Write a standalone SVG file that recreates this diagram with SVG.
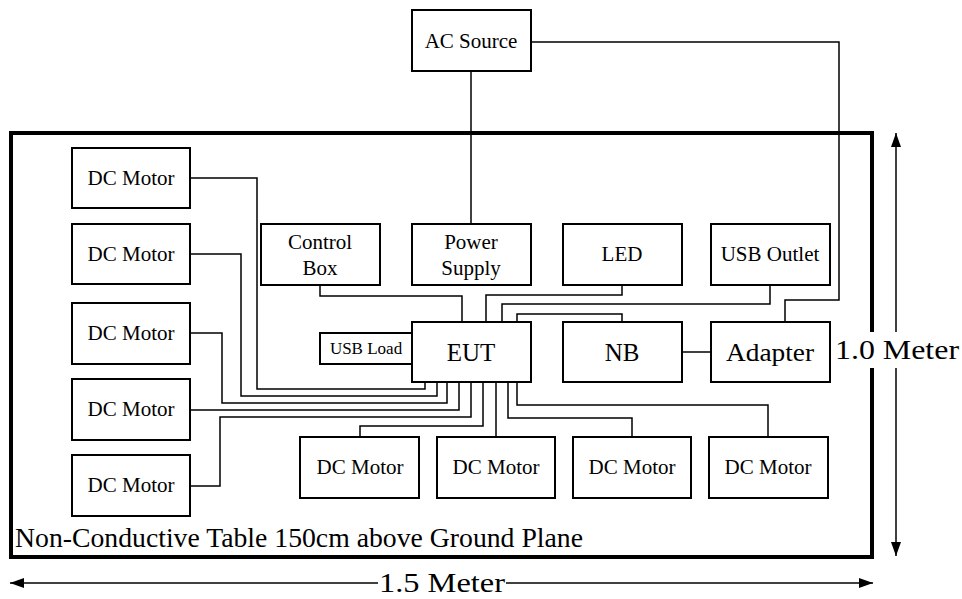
<svg xmlns="http://www.w3.org/2000/svg" width="962" height="599" viewBox="0 0 962 599">
<style>
.box{fill:#fff;stroke:#000;stroke-width:2}
.w{fill:none;stroke:#000;stroke-width:1.5}
.t{font-family:"Liberation Serif","Times New Roman",serif;fill:#000;text-anchor:middle}
.s{font-size:21px}
.m{font-size:25px}
.big{font-size:27px}
</style>
<defs>
<marker id="ah" viewBox="0 0 14 10" refX="14" refY="5" markerWidth="14" markerHeight="10" markerUnits="userSpaceOnUse" orient="auto-start-reverse">
<path d="M0,0 L14,5 L0,10 Z" fill="#000"/>
</marker>
</defs>
<rect width="962" height="599" fill="#fff"/>
<g id="table">
<rect x="11" y="133" width="861" height="424" fill="none" stroke="#000" stroke-width="4"/>
<text x="15" y="547" font-family="Liberation Serif, Times New Roman, serif" font-size="27" textLength="568" lengthAdjust="spacingAndGlyphs">Non-Conductive Table 150cm above Ground Plane</text>
</g>
<g id="connectors">
<path class="w" d="M471,72 V223"/>
<path class="w" d="M531,42 H839 V300 H785 V322"/>
<path class="w" d="M320,285 V296 H462 V322"/>
<path class="w" d="M622,285 V295 H486 V322"/>
<path class="w" d="M770,285 V304 H502 V322"/>
<path class="w" d="M622,322 V314 H517 V322"/>
<path class="w" d="M681,352 H711"/>
<path class="w" d="M190,178 H257 V389 H425 V382"/>
<path class="w" d="M190,254 H241 V396 H437 V382"/>
<path class="w" d="M190,333 H222 V403 H447 V382"/>
<path class="w" d="M190,410 H459 V382"/>
<path class="w" d="M190,486 H220 V417 H471 V382"/>
<path class="w" d="M483,382 V426 H360 V437"/>
<path class="w" d="M496,382 V437"/>
<path class="w" d="M508,382 V418 H632 V437"/>
<path class="w" d="M517,382 V405 H768 V437"/>
</g>
<g id="ac-source"><rect class="box" x="412" y="10" width="119" height="61"/><text class="t s" x="471" y="48">AC Source</text></g>
<g id="control-box"><rect class="box" x="261" y="224" width="119" height="61"/><text class="t s" x="320" y="249">Control</text><text class="t s" x="320" y="275">Box</text></g>
<g id="power-supply"><rect class="box" x="412" y="224" width="119" height="61"/><text class="t s" x="471" y="249">Power</text><text class="t s" x="471" y="275">Supply</text></g>
<g id="led"><rect class="box" x="563" y="224" width="119" height="61"/><text class="t s" x="622" y="261">LED</text></g>
<g id="usb-outlet"><rect class="box" x="711" y="224" width="119" height="61"/><text class="t s" x="770" y="261">USB Outlet</text></g>
<g id="usb-load"><rect class="box" x="320" y="333" width="92" height="31"/><text class="t" x="366" y="354" font-size="17">USB Load</text></g>
<g id="eut"><rect class="box" x="412" y="322" width="119" height="60"/><text class="t m" x="471" y="361">EUT</text></g>
<g id="nb"><rect class="box" x="563" y="322" width="119" height="60"/><text class="t m" x="622" y="361">NB</text></g>
<g id="adapter"><rect class="box" x="711" y="322" width="119" height="60"/><text class="t m" x="770" y="361" textLength="88" lengthAdjust="spacingAndGlyphs">Adapter</text></g>
<g id="dc-motor-l1"><rect class="box" x="72" y="148" width="118" height="60"/><text class="t s" x="131" y="185">DC Motor</text></g>
<g id="dc-motor-l2"><rect class="box" x="72" y="224" width="118" height="60"/><text class="t s" x="131" y="261">DC Motor</text></g>
<g id="dc-motor-l3"><rect class="box" x="72" y="303" width="118" height="61"/><text class="t s" x="131" y="340">DC Motor</text></g>
<g id="dc-motor-l4"><rect class="box" x="72" y="379" width="118" height="61"/><text class="t s" x="131" y="416">DC Motor</text></g>
<g id="dc-motor-l5"><rect class="box" x="72" y="455" width="118" height="61"/><text class="t s" x="131" y="492">DC Motor</text></g>
<g id="dc-motor-b1"><rect class="box" x="300" y="437" width="119" height="61"/><text class="t s" x="360" y="474">DC Motor</text></g>
<g id="dc-motor-b2"><rect class="box" x="437" y="437" width="118" height="61"/><text class="t s" x="496" y="474">DC Motor</text></g>
<g id="dc-motor-b3"><rect class="box" x="573" y="437" width="118" height="61"/><text class="t s" x="632" y="474">DC Motor</text></g>
<g id="dc-motor-b4"><rect class="box" x="709" y="437" width="119" height="61"/><text class="t s" x="768" y="474">DC Motor</text></g>
<g id="dim-height">
<path d="M896,337 V133" stroke="#000" stroke-width="1.5" marker-end="url(#ah)"/>
<path d="M896,367 V556" stroke="#000" stroke-width="1.5" marker-end="url(#ah)"/>
<rect x="834" y="332" width="126" height="36" fill="#fff"/>
<text class="t big" x="897" y="359" textLength="124" lengthAdjust="spacingAndGlyphs">1.0 Meter</text>
</g>
<g id="dim-width">
<path d="M378,583 H10" stroke="#000" stroke-width="1.5" marker-end="url(#ah)"/>
<path d="M506,583 H873" stroke="#000" stroke-width="1.5" marker-end="url(#ah)"/>
<text class="t big" x="442" y="592" textLength="126" lengthAdjust="spacingAndGlyphs">1.5 Meter</text>
</g>
</svg>
